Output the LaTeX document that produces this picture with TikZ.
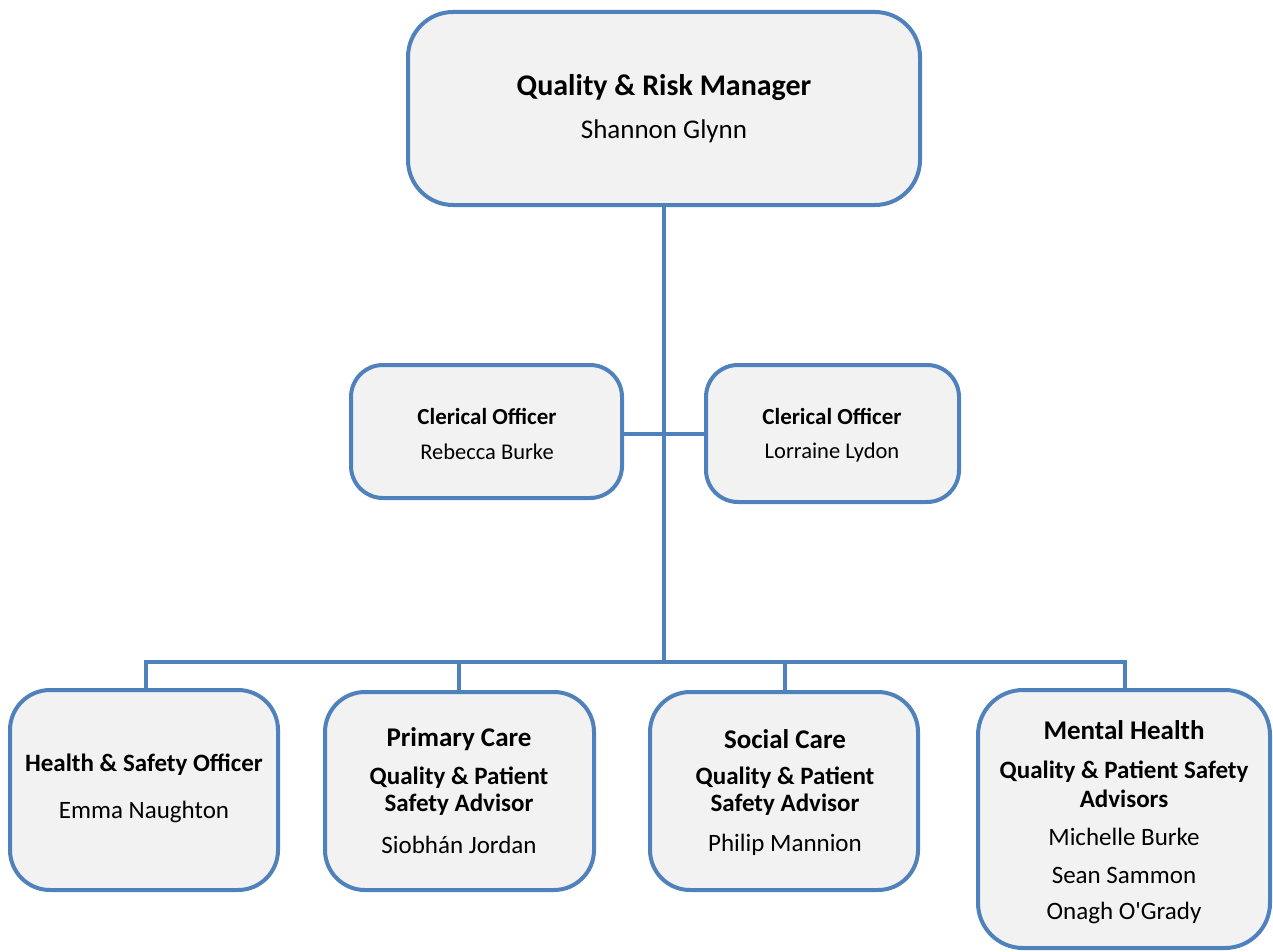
\documentclass[tikz,border=0pt]{standalone}
\usepackage{fontspec}
\setmainfont{Carlito}
\definecolor{edgeblue}{HTML}{4F81BD}
\definecolor{boxfill}{HTML}{F2F2F2}
\begin{document}
\begin{tikzpicture}[x=1pt,y=-1pt,
  orgbox/.style={draw=edgeblue,fill=boxfill,line width=4pt,rounded corners=#1},
  link/.style={draw=edgeblue,line width=4pt},
  ttl/.style={font=\fontsize{#1}{#1}\selectfont\bfseries,inner sep=0pt,align=center},
  nm/.style={font=\fontsize{#1}{#1}\selectfont,inner sep=0pt,align=center}]
\useasboundingbox (0,0) rectangle (1273,952);
% boxes
\path[orgbox=45] (408,12) rectangle (920,205);
\coordinate (topS) at (664,205);
\path[orgbox=32] (351,365) rectangle (622,498);
\coordinate (clLE) at (622,434);
\path[orgbox=32] (706,365) rectangle (959,502);
\coordinate (clRW) at (706,434);
\path[orgbox=40] (10,690) rectangle (278,890);
\coordinate (hsN) at (146,690);
\path[orgbox=40] (325,692) rectangle (594,890);
\coordinate (pcN) at (459,692);
\path[orgbox=40] (650,692) rectangle (918,890);
\coordinate (scN) at (785,692);
\path[orgbox=45] (978,690) rectangle (1270,948);
\coordinate (mhN) at (1125,690);
% connectors
\coordinate (busC) at (664,662);
\coordinate (busL) at (146,662);
\coordinate (busR) at (1125,662);
\coordinate (busPC) at (459,662);
\coordinate (busSC) at (785,662);
\draw[link] (topS) -- (busC);
\draw[link] (clLE) -- (clRW);
\draw[link,line join=miter] (hsN) -- (busL) -- (busR) -- (mhN);
\draw[link] (busPC) -- (pcN);
\draw[link] (busSC) -- (scN);
% texts
\node[ttl=30] (t1) at (664,88) {Quality \& Risk Manager};
\node[nm=27] (n1) at (664,131) {Shannon Glynn};
\node[ttl=23] (t2) at (487,416) {Clerical Officer};
\node[nm=22.5] (n2) at (487,452) {Rebecca Burke};
\node[ttl=23] (t3) at (832,416) {Clerical Officer};
\node[nm=22.5] (n3) at (832,452) {Lorraine Lydon};
\node[ttl=25] (t4) at (144,765) {Health \& Safety Officer};
\node[nm=25] (n4) at (144,812) {Emma Naughton};
\node[ttl=27] (t5a) at (459,739) {Primary Care};
\node[ttl=25] (t5b) at (459,778) {Quality \& Patient};
\node[ttl=25] (t5c) at (459,805) {Safety Advisor};
\node[nm=25] (n5) at (459,845) {Siobhán Jordan};
\node[ttl=27] (t6a) at (785,739) {Social Care};
\node[ttl=25] (t6b) at (785,778) {Quality \& Patient};
\node[ttl=25] (t6c) at (785,805) {Safety Advisor};
\node[nm=25] (n6) at (785,845) {Philip Mannion};
\node[ttl=27] (t7a) at (1124,730) {Mental Health};
\node[ttl=25] (t7b) at (1124,772) {Quality \& Patient Safety};
\node[ttl=25] (t7c) at (1124,799) {Advisors};
\node[nm=25] (n7a) at (1124,837) {Michelle Burke};
\node[nm=25] (n7b) at (1124,875) {Sean Sammon};
\node[nm=25] (n7c) at (1124,913) {Onagh O\textquotesingle Grady};
\end{tikzpicture}
\end{document}
